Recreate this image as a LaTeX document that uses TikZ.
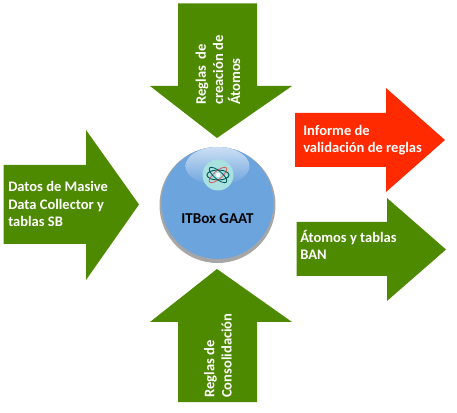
\documentclass[tikz,border=0pt]{standalone}
\usepackage{fontspec}
\setmainfont{Carlito}
\usepackage{xcolor}
\definecolor{arrowgreen}{HTML}{4E8A00}
\definecolor{arrowred}{HTML}{FF2A00}
\definecolor{ballblue}{HTML}{6CA4DE}
\definecolor{iconteal}{HTML}{A9E0E0}
\begin{document}
\begin{tikzpicture}[
  x=0.75pt,y=-0.75pt,
  garrow/.style={fill=arrowgreen},
  rarrow/.style={fill=arrowred},
  label/.style={text=white,font=\fontsize{10.9}{12.9}\selectfont\bfseries,align=left,inner sep=0pt,anchor=west},
  vlabel/.style={label,rotate=90}
]
  \useasboundingbox (0,0) rectangle (457,413);
  % arrows
  \fill[garrow] (3.5,165) -- (86,165) -- (86,130) -- (139,204.5) -- (86,280) -- (86,244) -- (3.5,244) -- cycle;
  \fill[garrow] (178,3.5) -- (257,3.5) -- (257,86) -- (292,86) -- (217,138) -- (150,86) -- (178,86) -- cycle;
  \fill[garrow] (178,402) -- (257,402) -- (257,322) -- (292,322) -- (217,269) -- (150,322) -- (178,322) -- cycle;
  \fill[rarrow] (295,113) -- (386,113) -- (386,88) -- (445,140) -- (386,192) -- (386,167) -- (295,167) -- cycle;
  \fill[garrow] (296.5,222) -- (387,222) -- (387,198) -- (446,249.5) -- (387,301) -- (387,276) -- (296.5,276) -- cycle;
  % ball
  \fill[black!35] (217.5,205) circle (58);
  \fill[ballblue] (217.5,203) circle (56);
  \shade[top color=white!65!ballblue,bottom color=ballblue] (217.5,166) ellipse (32 and 19);
  \fill[iconteal] (218,175) circle (15.5);
  \draw[teal!70!black,line width=0.7pt] (218,175) ellipse (11 and 5);
  \draw[red!60!iconteal,line width=0.6pt,rotate around={40:(218,175)}] (218,175) ellipse (11 and 4);
  \draw[teal!70!black,line width=0.6pt,rotate around={-40:(218,175)}] (218,175) ellipse (11 and 4);
  \fill[white] (218,175) circle (2.2);
  % labels
  \node[label] (datos) at (8,204) {Datos de Masive\\Data Collector y\\tablas SB};
  \node[label] (informe) at (303,140) {Informe de\\validación de reglas};
  \node[label] (atomos) at (300,245) {Átomos y tablas\\BAN};
  \node[vlabel] (creacion) at (218,105) {Reglas~~de\\creación de\\Átomos};
  \node[vlabel] (consolidacion) at (218,398) {Reglas de\\Consolidación};
  \node[font=\fontsize{11.3}{13}\selectfont\bfseries,text=black,inner sep=0pt] (itbox) at (217.5,219) {ITBox GAAT};
\end{tikzpicture}
\end{document}
